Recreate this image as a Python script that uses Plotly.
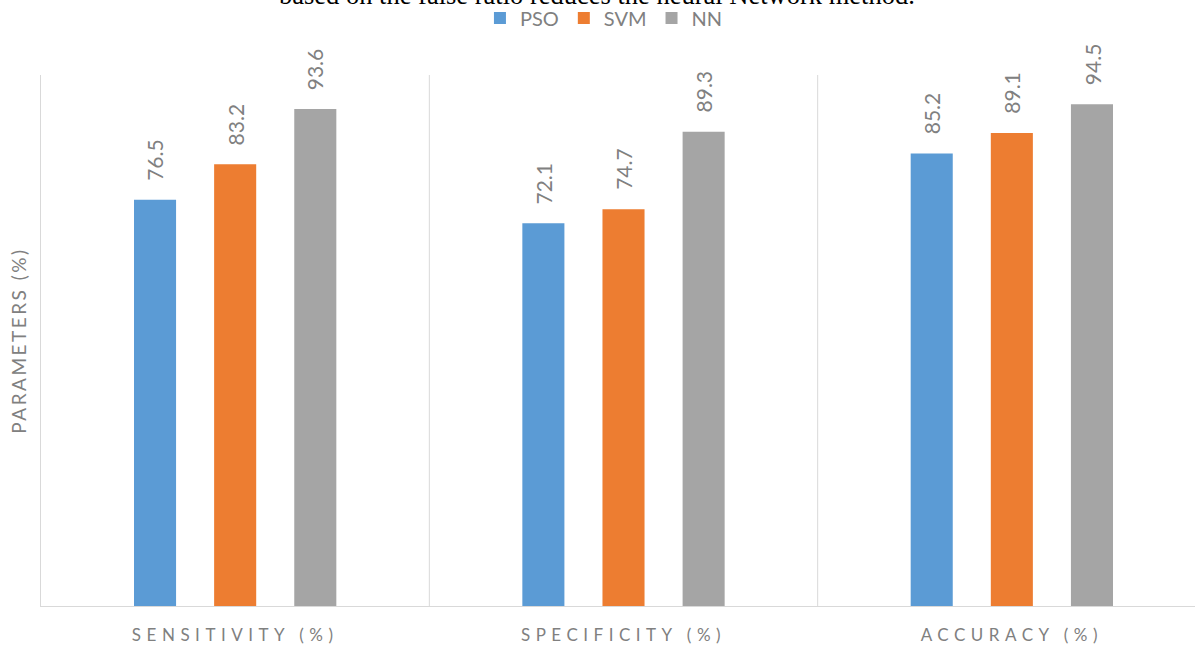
import plotly.graph_objects as go

categories = ["SENSITIVITY (%)", "SPECIFICITY (%)", "ACCURACY (%)"]
series_names = ["PSO", "SVM", "NN"]
pso = [76.5, 72.1, 85.2]
svm = [83.2, 74.7, 89.1]
nn = [93.6, 89.3, 94.5]
colors = ["#5B9BD5", "#ED7D31", "#A5A5A5"]

series_values = [pso, svm, nn]
FONT = "Lato"
GRAY = "#808080"

BARGAP = 0.381
BARGROUPGAP = 0.475
slot = (1 - BARGAP) / len(series_names)

fig = go.Figure()
for name, vals, col in zip(series_names, series_values, colors):
    fig.add_trace(go.Bar(x=categories, y=vals, name=name, marker=dict(color=col, line=dict(width=0))))

# rotated data labels
for j, vals in enumerate(series_values):
    for i, v in enumerate(vals):
        fig.add_annotation(x=i + (j - 1) * slot, y=v, xref="x", yref="y",
                           text=f"{v}", textangle=-90, showarrow=False,
                           yanchor="bottom", xanchor="center", yshift=17,
                           font=dict(family=FONT, size=21, color=GRAY))

# category separators
for b in [0.5, 1.5]:
    fig.add_shape(type="line", xref="x", yref="paper", x0=b, x1=b, y0=0, y1=1,
                  line=dict(color="#D9D9D9", width=1))

# clipped caption text from the source page
fig.add_annotation(xref="paper", yref="paper", x=0.482, y=1.119, xanchor="center", yanchor="bottom",
                   text="based on the false ratio reduces the neural Network method.", showarrow=False,
                   font=dict(family="Liberation Serif", size=26.5, color="#000000"))

fig.update_layout(
    width=1195, height=653,
    margin=dict(l=41, r=0, t=75, b=47, autoexpand=False),
    paper_bgcolor="white", plot_bgcolor="white",
    barmode="group", bargap=BARGAP, bargroupgap=BARGROUPGAP,
    showlegend=True,
    legend=dict(orientation="h", xref="container", yref="container", x=0.5054, xanchor="center",
                y=1 - 18 / 653, yanchor="middle",
                font=dict(family=FONT, size=20, color=GRAY), itemwidth=30,
                traceorder="normal"),
    xaxis=dict(range=[-0.5, 2.5 - 11 / 388], showgrid=False, showline=True, linecolor="#D9D9D9",
               tickfont=dict(family=FONT, size=17, color=GRAY), ticks="", ticklabelstandoff=14,
               automargin=False),
    yaxis=dict(range=[0, 100], showgrid=False, showline=True, linecolor="#D9D9D9",
               showticklabels=False, ticks="", zeroline=False, automargin=False,
               title=dict(text="PARAMETERS (%)", font=dict(family=FONT, size=19, color=GRAY), standoff=8)),
)

css = """
var s = document.createElement('style');
s.innerHTML = 'body{margin:0} .xtick text{letter-spacing:5.5px} .g-ytitle text{letter-spacing:2.5px}';
document.head.appendChild(s);
"""
fig.write_html("out.html", post_script=css, config={"displayModeBar": False})
